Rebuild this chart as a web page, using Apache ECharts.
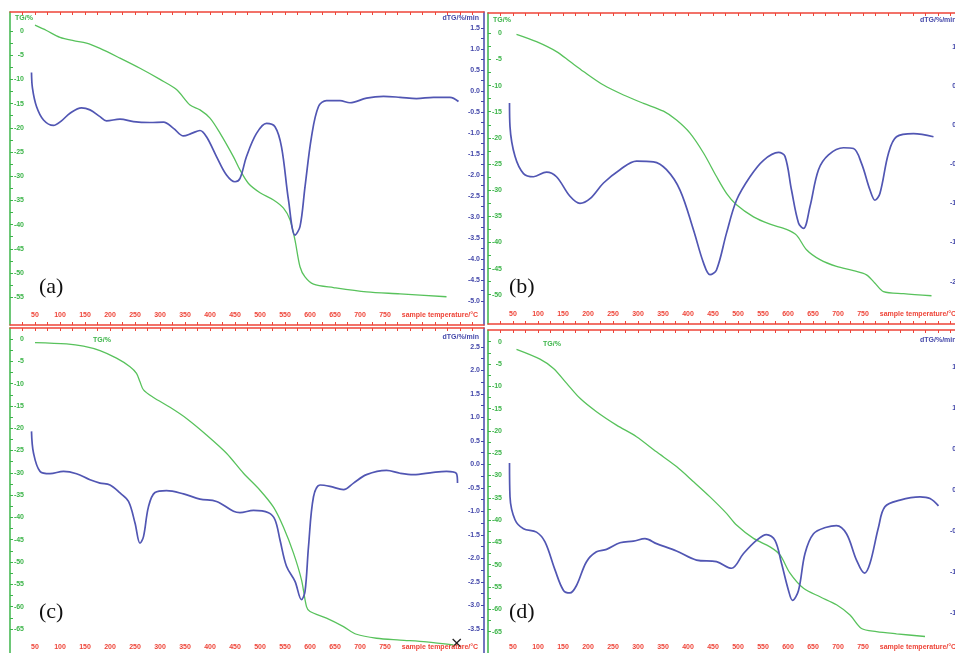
<!DOCTYPE html>
<html>
<head>
<meta charset="utf-8">
<script src="https://cdn.jsdelivr.net/npm/echarts@6/dist/echarts.min.js"></script>
<style>html,body{margin:0;padding:0;background:#fff}#main{width:955px;height:653px}</style>
</head>
<body>
<div id="main"></div>
<script>
// temperature tick labels (°C)
var tempLabels = [50, 100, 150, 200, 250, 300, 350, 400, 450, 500, 550, 600, 650, 700, 750];

// axis labels per panel
var tgLabelsA = [0, -5, -10, -15, -20, -25, -30, -35, -40, -45, -50, -55];
var dtgLabelsA = [1.5, 1.0, 0.5, 0, -0.5, -1.0, -1.5, -2.0, -2.5, -3.0, -3.5, -4.0, -4.5, -5.0];
var tgLabelsB = [0, -5, -10, -15, -20, -25, -30, -35, -40, -45, -50];
var dtgLabelsB = [1.0, 0.5, 0, -0.5, -1.0, -1.5, -2.0];
var tgLabelsC = [0, -5, -10, -15, -20, -25, -30, -35, -40, -45, -50, -55, -60, -65];
var dtgLabelsC = [2.5, 2.0, 1.5, 1.0, 0.5, 0, -0.5, -1.0, -1.5, -2.0, -2.5, -3.0, -3.5];
var tgLabelsD = [0, -5, -10, -15, -20, -25, -30, -35, -40, -45, -50, -55, -60, -65];
var dtgLabelsD = [1.5, 1.0, 0.5, 0, -0.5, -1.0, -1.5];

// (a)
var tgTempA = [50, 73, 100, 127, 153, 180, 220, 260, 300, 333, 360, 380, 400, 420, 447, 460, 477, 500, 527, 547, 560, 570, 580, 590, 607, 647, 713, 780, 873];
var tgA = [1.2, 0.1, -1.3, -2.0, -2.5, -3.6, -5.6, -7.7, -10.0, -12.1, -15.3, -16.3, -18.0, -21.1, -26.0, -28.7, -31.5, -33.4, -34.9, -36.6, -39.0, -43.2, -48.7, -50.8, -52.3, -53.0, -53.9, -54.3, -54.9];
var dtgTempA = [43, 45, 53, 67, 87, 103, 120, 143, 160, 180, 193, 220, 247, 280, 307, 327, 347, 363, 380, 393, 413, 433, 450, 460, 473, 493, 513, 530, 543, 557, 570, 580, 590, 603, 617, 633, 660, 680, 713, 747, 780, 813, 847, 880, 897];
var dtgA = [0.44, 0.06, -0.37, -0.69, -0.82, -0.71, -0.53, -0.40, -0.45, -0.61, -0.71, -0.67, -0.73, -0.75, -0.74, -0.89, -1.07, -1.01, -0.94, -1.09, -1.56, -2.0, -2.16, -2.08, -1.56, -1.01, -0.77, -0.85, -1.33, -2.6, -3.43, -3.23, -2.28, -1.09, -0.37, -0.23, -0.23, -0.28, -0.17, -0.13, -0.15, -0.18, -0.15, -0.15, -0.25];

// (b)
var tgTempB = [57, 97, 137, 164, 191, 231, 271, 311, 351, 377, 404, 431, 457, 477, 497, 531, 564, 597, 617, 637, 664, 697, 731, 757, 774, 791, 831, 887];
var tgB = [-0.2, -1.6, -3.5, -5.4, -7.3, -9.9, -11.8, -13.4, -14.9, -16.6, -19.1, -22.9, -27.4, -30.6, -32.8, -35.1, -36.5, -37.5, -38.6, -41.4, -43.3, -44.6, -45.4, -46.2, -47.8, -49.4, -49.8, -50.2];
var dtgTempB = [43, 44, 54, 71, 91, 117, 137, 164, 184, 204, 231, 264, 297, 331, 357, 384, 411, 431, 444, 457, 477, 497, 524, 551, 581, 594, 607, 621, 631, 644, 661, 681, 711, 731, 747, 764, 774, 784, 801, 817, 851, 891];
var dtgB = [0.28, -0.02, -0.40, -0.62, -0.66, -0.60, -0.66, -0.91, -1.0, -0.94, -0.74, -0.57, -0.46, -0.47, -0.57, -0.83, -1.34, -1.76, -1.91, -1.85, -1.38, -0.96, -0.66, -0.45, -0.35, -0.40, -0.83, -1.25, -1.32, -1.04, -0.57, -0.38, -0.29, -0.30, -0.49, -0.83, -0.96, -0.87, -0.36, -0.15, -0.11, -0.15];

// (c)
var tgTempC = [50, 113, 147, 180, 213, 240, 253, 260, 267, 287, 320, 353, 393, 433, 467, 500, 527, 547, 567, 583, 593, 600, 633, 667, 693, 733, 780, 833, 887];
var tgC = [-0.8, -1.1, -1.6, -2.6, -4.3, -6.2, -7.7, -9.6, -11.4, -13.1, -15.3, -17.8, -21.5, -25.6, -30.1, -33.9, -37.7, -42.2, -48.0, -54.0, -60.0, -61.1, -62.6, -64.5, -66.2, -67.1, -67.5, -67.9, -68.6];
var dtgTempC = [43, 47, 60, 80, 107, 133, 160, 180, 200, 220, 237, 250, 260, 267, 277, 290, 313, 347, 380, 413, 447, 460, 487, 517, 530, 540, 553, 570, 583, 590, 597, 607, 620, 640, 667, 687, 713, 753, 780, 807, 847, 873, 893, 895];
var dtgC = [0.70, 0.24, -0.15, -0.20, -0.15, -0.20, -0.33, -0.40, -0.44, -0.61, -0.79, -1.25, -1.68, -1.54, -0.90, -0.60, -0.56, -0.63, -0.74, -0.79, -1.0, -1.03, -0.98, -1.03, -1.18, -1.61, -2.17, -2.49, -2.88, -2.71, -1.75, -0.69, -0.44, -0.47, -0.54, -0.40, -0.22, -0.13, -0.19, -0.22, -0.17, -0.15, -0.20, -0.40];

// (d)
var tgTempD = [57, 104, 131, 157, 184, 217, 257, 297, 337, 377, 411, 444, 477, 497, 531, 564, 584, 604, 631, 664, 697, 724, 747, 777, 817, 874];
var tgD = [-1.7, -3.9, -6.0, -9.3, -12.7, -15.7, -18.7, -21.3, -24.7, -28.0, -31.4, -34.8, -38.5, -41.1, -44.1, -46.0, -47.8, -51.9, -55.3, -57.2, -59.0, -61.3, -64.3, -65.0, -65.5, -66.1];
var dtgTempD = [43, 44, 54, 71, 97, 114, 134, 151, 164, 177, 197, 217, 237, 264, 291, 314, 337, 377, 417, 457, 487, 511, 537, 557, 574, 587, 601, 609, 621, 634, 651, 677, 697, 717, 737, 753, 764, 781, 794, 824, 864, 884, 901];
var dtgD = [0.33, -0.08, -0.36, -0.47, -0.51, -0.63, -0.97, -1.22, -1.25, -1.16, -0.87, -0.75, -0.72, -0.64, -0.62, -0.59, -0.65, -0.74, -0.85, -0.87, -0.95, -0.77, -0.61, -0.54, -0.61, -0.89, -1.22, -1.34, -1.22, -0.77, -0.53, -0.45, -0.43, -0.53, -0.85, -1.01, -0.89, -0.45, -0.20, -0.12, -0.08, -0.10, -0.19];

var RED = '#ee4438', GREEN = '#3db54a', BLUE = '#4448aa';
var GREEN_LINE = '#58c25c', BLUE_LINE = '#5156b3';
var NAME_TEMP = 860;

function pairs(xs, ys) {
    return xs.map(function (x, i) { return [x, ys[i]]; });
}
function halfSteps(labels) {
    var out = [];
    for (var i = 0; i < labels.length; i++) {
        out.push(labels[i]);
        if (i < labels.length - 1) out.push((labels[i] + labels[i + 1]) / 2);
    }
    return out;
}
var tempTicks = [25].concat(halfSteps(tempLabels), [775, 800, 825, 850, 875, 900, 925]);

var panels = [
    {grid: {left: 10, top: 12, width: 474, height: 313}, xmax: 948,
        tg: [-60.74, 3.93], dtg: [-5.57, 1.88], tgL: tgLabelsA, dtgL: dtgLabelsA,
        tgData: pairs(tgTempA, tgA), dtgData: pairs(dtgTempA, dtgA)},
    {grid: {left: 488, top: 13, width: 478, height: 311}, xmax: 956,
        tg: [-55.6, 3.88], dtg: [-2.54, 1.43], tgL: tgLabelsB, dtgL: dtgLabelsB,
        tgData: pairs(tgTempB, tgB), dtgData: pairs(dtgTempB, dtgB)},
    {grid: {left: 10, top: 328, width: 474, height: 329}, xmax: 948,
        tg: [-71.3, 2.47], dtg: [-4.10, 2.90], tgL: tgLabelsC, dtgL: dtgLabelsC,
        tgData: pairs(tgTempC, tgC), dtgData: pairs(dtgTempC, dtgC)},
    {grid: {left: 488, top: 330, width: 478, height: 327}, xmax: 956,
        tg: [-70.7, 2.62], dtg: [-2.03, 1.95], tgL: tgLabelsD, dtgL: dtgLabelsD,
        tgData: pairs(tgTempD, tgD), dtgData: pairs(dtgTempD, dtgD)}
];

var labelFont = {fontSize: 7, fontWeight: 'bold', fontFamily: 'Liberation Sans'};
var grids = [], xAxes = [], yAxes = [], series = [];

panels.forEach(function (p, g) {
    grids.push(Object.assign({outerBoundsMode: 'none', containLabel: false}, p.grid));
    xAxes.push({
        type: 'value', gridIndex: g, position: 'bottom', min: 0, max: p.xmax,
        axisLine: {onZero: false, lineStyle: {color: RED, width: 1.5}},
        axisTick: {inside: true, length: 3, customValues: tempTicks, lineStyle: {color: RED}},
        axisLabel: Object.assign({
            inside: true, margin: 6, color: RED,
            customValues: tempLabels.concat([NAME_TEMP]),
            formatter: function (v) { return v === NAME_TEMP ? 'sample temperature/°C' : String(v); }
        }, labelFont),
        splitLine: {show: false}
    });
    xAxes.push({
        type: 'value', gridIndex: g, position: 'top', min: 0, max: p.xmax,
        axisLine: {onZero: false, lineStyle: {color: RED, width: 1.5}},
        axisTick: {inside: true, length: 3, customValues: tempTicks, lineStyle: {color: RED}},
        axisLabel: {show: false},
        splitLine: {show: false}
    });
    yAxes.push({
        type: 'value', gridIndex: g, position: 'left', min: p.tg[0], max: p.tg[1],
        axisLine: {show: true, onZero: false, lineStyle: {color: GREEN, width: 1.5}},
        axisTick: {show: true, inside: true, length: 3, customValues: halfSteps(p.tgL), lineStyle: {color: GREEN}},
        axisLabel: Object.assign({
            inside: true, margin: 14, align: 'right', color: GREEN, customValues: p.tgL,
            formatter: function (v) { return String(Math.round(v)); }
        }, labelFont),
        splitLine: {show: false}
    });
    yAxes.push({
        type: 'value', gridIndex: g, position: 'right', min: p.dtg[0], max: p.dtg[1],
        axisLine: {show: true, onZero: false, lineStyle: {color: BLUE, width: 1.5}},
        axisTick: {show: true, inside: true, length: 3, customValues: halfSteps(p.dtgL), lineStyle: {color: BLUE}},
        axisLabel: Object.assign({
            inside: true, margin: 4, color: BLUE, customValues: p.dtgL,
            formatter: function (v) { return v.toFixed(1); }
        }, labelFont),
        splitLine: {show: false}
    });
    series.push({
        type: 'line', name: 'TG', xAxisIndex: 2 * g, yAxisIndex: 2 * g,
        data: p.tgData, showSymbol: false, smooth: 0.3,
        lineStyle: {color: GREEN_LINE, width: 1.3}
    });
    series.push({
        type: 'line', name: 'dTG', xAxisIndex: 2 * g, yAxisIndex: 2 * g + 1,
        data: p.dtgData, showSymbol: false, smooth: 0.35,
        lineStyle: {color: BLUE_LINE, width: 1.7}
    });
});

function txt(t, x, y, color, font, align) {
    return {type: 'text', x: x, y: y, style: {text: t, fill: color, font: font, textAlign: align || 'left', textVerticalAlign: 'middle'}};
}
var nameFont = 'bold 7px "Liberation Sans"';
var tagFont = '22px "Liberation Serif"';

var myChart = echarts.init(document.getElementById('main'));
option = {
    backgroundColor: '#fff',
    animation: false,
    grid: grids,
    xAxis: xAxes,
    yAxis: yAxes,
    series: series,
    graphic: [
        txt('TG/%', 15, 18, GREEN, nameFont),
        txt('dTG/%/min', 479, 18, BLUE, nameFont, 'right'),
        txt('TG/%', 493, 20, GREEN, nameFont),
        txt('dTG/%/min', 920, 20, BLUE, nameFont),
        txt('TG/%', 93, 340, GREEN, nameFont),
        txt('dTG/%/min', 479, 337, BLUE, nameFont, 'right'),
        txt('TG/%', 543, 344, GREEN, nameFont),
        txt('dTG/%/min', 920, 340, BLUE, nameFont),
        txt('(a)', 39, 287, '#111', tagFont),
        txt('(b)', 509, 287, '#111', tagFont),
        txt('(c)', 39, 612, '#111', tagFont),
        txt('(d)', 509, 612, '#111', tagFont),
        txt('×', 450, 644, '#222', '16px "DejaVu Sans"')
    ]
};
myChart.setOption(option);
</script>
</body>
</html>
